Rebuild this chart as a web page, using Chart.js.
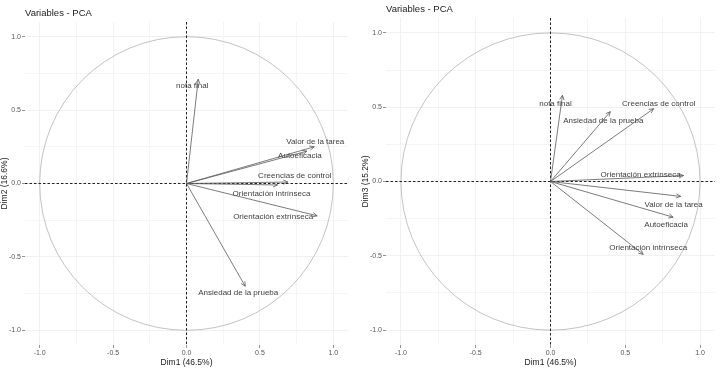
<!DOCTYPE html>
<html>
<head>
<meta charset="utf-8">
<script src="https://cdn.jsdelivr.net/npm/chart.js@4/dist/chart.umd.min.js"></script>
<style>
  html, body { margin: 0; padding: 0; background: #fff; }
  #wrap { position: relative; width: 722px; height: 386px; }
  .panel { position: absolute; top: 0; width: 361px; height: 386px; }
</style>
</head>
<body>
<div id="wrap">
  <div class="panel" style="left:0"><canvas id="pca12" width="361" height="386"></canvas></div>
  <div class="panel" style="left:361px"><canvas id="pca13" width="361" height="386"></canvas></div>
</div>
<script>
// Variable coordinates
const variables = ['nota final', 'Valor de la tarea', 'Autoeficacia', 'Creencias de control',
  'Orientación intrínseca', 'Orientación extrínseca', 'Ansiedad de la prueba'];
const dim1 = [0.08, 0.87, 0.82, 0.69, 0.62, 0.89, 0.40];
const dim2 = [0.71, 0.25, 0.22, 0.01, -0.01, -0.22, -0.70];
const dim3 = [0.58, -0.10, -0.24, 0.49, -0.49, 0.04, 0.47];
const gridTicks = [-1, -0.75, -0.5, -0.25, 0, 0.25, 0.5, 0.75, 1];
const majorTicks = [-1, -0.5, 0, 0.5, 1];
const titleText = 'Variables - PCA';
const xTitle = 'Dim1 (46.5%)';
const y2Title = 'Dim2 (16.6%)';
const y3Title = 'Dim3 (15.2%)';

Chart.defaults.font.family = '"Liberation Sans", Arial, sans-serif';

// label nudges in pixels from each arrow tip (ggplot places them, we copy)
const nudges12 = [[-6, 7], [1, -5], [-7, 5], [7, -6], [-6, 9], [-44, 1], [-7, 7]];
const nudges13 = [[-7, 9], [-7, 8], [-7, 8], [5, -5], [5, -7], [-43, -1], [-7, 9]];

const isMajor = v => majorTicks.some(m => Math.abs(m - v) < 1e-9);

// circle, zero lines, arrow heads and labels
const pcaDecor = {
  id: 'pcaDecor',
  beforeDatasetsDraw(chart) {
    const { ctx, chartArea: a, scales: { x, y } } = chart;
    const cx = x.getPixelForValue(0), cy = y.getPixelForValue(0);
    const rx = x.getPixelForValue(1) - cx, ry = cy - y.getPixelForValue(1);
    ctx.save();
    ctx.strokeStyle = '#b4b4b4';
    ctx.lineWidth = 0.8;
    ctx.beginPath();
    ctx.ellipse(cx, cy, rx, ry, 0, 0, Math.PI * 2);
    ctx.stroke();
    ctx.strokeStyle = '#222';
    ctx.lineWidth = 1;
    ctx.setLineDash([2.5, 2]);
    ctx.beginPath();
    ctx.moveTo(a.left, cy); ctx.lineTo(a.right, cy);
    ctx.moveTo(cx, a.top); ctx.lineTo(cx, a.bottom);
    ctx.stroke();
    ctx.restore();
  },
  afterDatasetsDraw(chart, args, opts) {
    const { ctx } = chart;
    ctx.save();
    chart.data.datasets.forEach((ds, i) => {
      const pts = chart.getDatasetMeta(i).data;
      const p0 = pts[0], p1 = pts[1];
      const ang = Math.atan2(p1.y - p0.y, p1.x - p0.x);
      const len = 5;
      ctx.strokeStyle = '#5a5a5a';
      ctx.lineWidth = 0.8;
      ctx.beginPath();
      ctx.moveTo(p1.x - len * Math.cos(ang - 0.45), p1.y - len * Math.sin(ang - 0.45));
      ctx.lineTo(p1.x, p1.y);
      ctx.lineTo(p1.x - len * Math.cos(ang + 0.45), p1.y - len * Math.sin(ang + 0.45));
      ctx.stroke();
      const n = opts.nudges[i];
      ctx.fillStyle = '#404040';
      ctx.font = '8px "Liberation Sans", Arial, sans-serif';
      ctx.textAlign = 'center';
      ctx.textBaseline = 'middle';
      ctx.fillText(ds.label, p1.x + n[0], p1.y + n[1]);
    });
    ctx.restore();
  }
};

function makePca(canvasId, yValues, yTitle, nudges, padRight, titlePad) {
  const datasets = variables.map((name, i) => ({
    label: name,
    data: [{ x: 0, y: 0 }, { x: dim1[i], y: yValues[i] }],
    showLine: true,
    borderColor: '#5a5a5a',
    borderWidth: 0.8,
    pointRadius: 0,
    pointHoverRadius: 0
  }));

  const axis = (title, horizontal) => ({
    type: 'linear',
    min: -1.1,
    max: 1.1,
    afterBuildTicks: s => { s.ticks = gridTicks.map(v => ({ value: v })); },
    afterFit: s => { if (horizontal) s.height = 41; else s.width = 25; },
    border: { display: false },
    grid: {
      color: '#efefef',
      lineWidth: c => (c.tick && isMajor(c.tick.value)) ? 0.9 : 0.6,
      tickColor: c => (c.tick && isMajor(c.tick.value)) ? '#8a8a8a' : 'rgba(0,0,0,0)',
      tickLength: 3
    },
    ticks: {
      autoSkip: false,
      maxRotation: 0,
      padding: 1,
      color: '#555',
      font: { size: 7 },
      callback: v => isMajor(v) ? v.toFixed(1) : ''
    },
    title: {
      display: true,
      text: title,
      color: '#222',
      font: { size: 8.5 },
      padding: horizontal ? { top: 0, bottom: 18 } : { top: 0, bottom: 0 }
    }
  });

  return new Chart(document.getElementById(canvasId), {
    type: 'scatter',
    data: { datasets },
    options: {
      responsive: false,
      animation: false,
      devicePixelRatio: 1,
      layout: { padding: { left: 0, right: padRight, top: 0, bottom: 0 } },
      scales: { x: axis(xTitle, true), y: axis(yTitle, false) },
      plugins: {
        legend: { display: false },
        tooltip: { enabled: false },
        title: {
          display: true,
          text: titleText,
          align: 'start',
          fullSize: false,
          color: '#222',
          font: { size: 9.5, weight: 'normal' },
          padding: titlePad
        },
        pcaDecor: { nudges }
      }
    },
    plugins: [pcaDecor]
  });
}

makePca('pca12', dim2, y2Title, nudges12, 13, { top: 8, bottom: 2.6 });
makePca('pca13', dim3, y3Title, nudges13, 7, { top: 4, bottom: 2.6 });
</script>
</body>
</html>
